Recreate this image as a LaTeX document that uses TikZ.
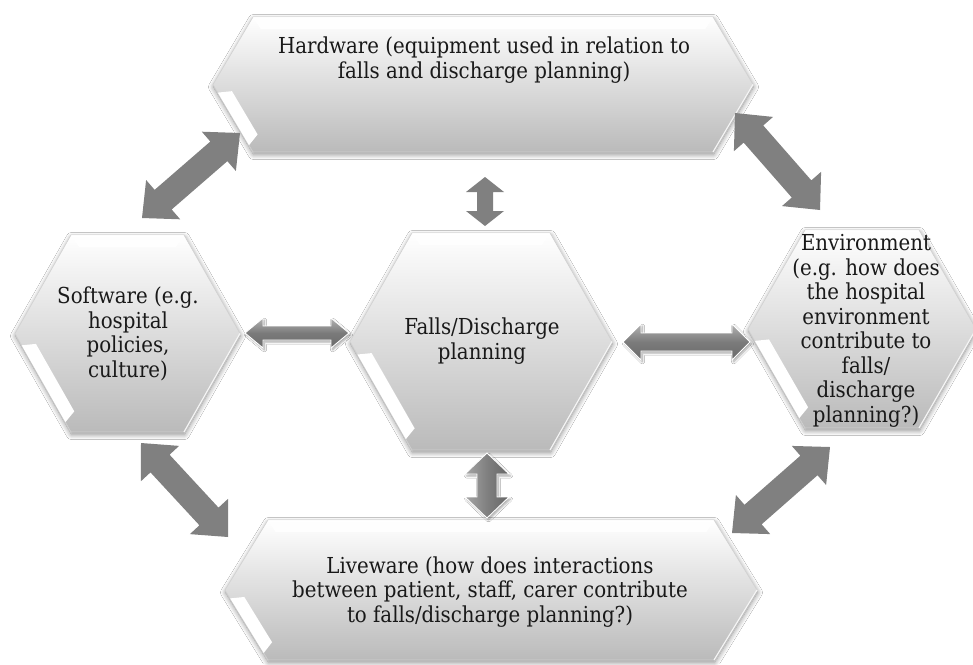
\documentclass[tikz,border=0pt]{standalone}
\usepackage{fontspec}
\setmainfont{DejaVu Serif Condensed}
\usetikzlibrary{calc,shadows.blur}

\definecolor{arrowgray}{HTML}{808080}

\tikzset{
  hexfill/.style={top color=white, bottom color=black!27,
    draw=black!18, line width=0.6pt,
    blur shadow={shadow xshift=0.5pt, shadow yshift=-2.5pt, shadow blur steps=10,
                 shadow blur radius=5pt, shadow opacity=45}},
  bevelband/.style={fill=white},
  celltext/.style={align=center, font=\fontsize{22}{24.5}\selectfont,
    text=black!90, inner sep=0pt},
  flatarrow/.style={fill=arrowgray},
  raisedh/.style={top color=black!30, bottom color=black!58, middle color=black!52,
    draw=white, line width=0.9pt,
    blur shadow={shadow xshift=1.5pt, shadow yshift=-2pt, shadow blur steps=5,
                 shadow blur radius=2pt, shadow opacity=35}},
  raisedv/.style={left color=black!35, right color=black!60, middle color=black!50,
    draw=white, line width=0.9pt,
    blur shadow={shadow xshift=1.5pt, shadow yshift=-2pt, shadow blur steps=5,
                 shadow blur radius=2pt, shadow opacity=35}},
}

% Bevelled hexagon: #1 name, #2 centre x, #3 centre y, #4 half width,
% #5 half height, #6 horizontal slant of the side edges
\newcommand\hexcell[6]{%
  \coordinate (#1-L)  at ({#2-#4},#3);
  \coordinate (#1-TL) at ({#2-#4+#6},{#3-#5});
  \coordinate (#1-TR) at ({#2+#4-#6},{#3-#5});
  \coordinate (#1-R)  at ({#2+#4},#3);
  \coordinate (#1-BR) at ({#2+#4-#6},{#3+#5});
  \coordinate (#1-BL) at ({#2-#4+#6},{#3+#5});
  \coordinate (#1-iL)  at ({#2-#4+15},#3);
  \coordinate (#1-iTL) at ({#2-#4+15+#6*(#5-12)/#5},{#3-#5+12});
  \coordinate (#1-iTR) at ({#2+#4-15-#6*(#5-12)/#5},{#3-#5+12});
  \coordinate (#1-iBL) at ({#2-#4+15+#6*(#5-12)/#5},{#3+#5-12});
  \path[hexfill] (#1-L) -- (#1-TL) -- (#1-TR) -- (#1-R) -- (#1-BR) -- (#1-BL) -- cycle;
  \fill[bevelband, opacity=0.9] (#1-TL) -- (#1-TR) -- (#1-iTR) -- (#1-iTL) -- cycle;
  \fill[bevelband] ($(#1-L)!0.12!(#1-BL)$) -- ($(#1-L)!0.9!(#1-BL)$)
    -- ($(#1-iL)!0.9!(#1-iBL)$) -- ($(#1-iL)!0.12!(#1-iBL)$) -- cycle;
  \draw[white, line width=1.2pt, opacity=0.8] (#1-R) -- (#1-BR);
}

% Double-headed block arrow: #1 style, #2 one end, #3 other end,
% #4 head length, #5 half head width, #6 half shaft width
\newcommand\blockarrow[6]{%
  \path[#1] (#2)
    -- ($(#2)!#4!(#3)!#5!90:(#3)$)
    -- ($(#2)!#4!(#3)!#6!90:(#3)$)
    -- ($(#3)!#4!(#2)!#6!-90:(#2)$)
    -- ($(#3)!#4!(#2)!#5!-90:(#2)$)
    -- (#3)
    -- ($(#3)!#4!(#2)!#5!90:(#2)$)
    -- ($(#3)!#4!(#2)!#6!90:(#2)$)
    -- ($(#2)!#4!(#3)!#6!-90:(#3)$)
    -- ($(#2)!#4!(#3)!#5!-90:(#3)$)
    -- cycle;
}

\begin{document}
\begin{tikzpicture}[x=1pt, y=-1pt]
  \fill[white] (0,0) rectangle (973,664);
  \useasboundingbox (0,0) rectangle (973,664);

  % the five hexagons
  \hexcell{hwh}{483}{84.5}{270}{67.5}{40}
  \hexcell{lwh}{491}{590}{266}{70}{43}
  \hexcell{swh}{127.5}{333.5}{112.5}{98.5}{56}
  \hexcell{fdh}{481}{341.5}{131}{108.5}{62}
  \hexcell{enh}{862}{329}{114}{99}{57}

  % texts
  \node[celltext] (hw) at (484,60)
    {Hardware (equipment used in relation to\\falls and discharge planning)};
  \node[celltext] (sw) at (128,334)
    {Software (e.g.\\hospital\\policies,\\culture)};
  \node[celltext] (fd) at (482,341)
    {Falls/Discharge\\planning};
  \node[celltext] (en) at (866,331)
    {Environment\\(e.g. how does\\the hospital\\environment\\contribute to\\falls/\\discharge\\planning?)};
  \node[celltext] (lw) at (490,592)
    {Liveware (how does interactions\\between patient, staff, carer contribute\\to falls/discharge planning?)};

  % arrow end points
  \coordinate (sw-hw) at (142,218);
  \coordinate (hw-sw) at (240,133);
  \coordinate (hw-en) at (735,113);
  \coordinate (en-hw) at (820,210);
  \coordinate (sw-lw) at (141,443);
  \coordinate (lw-sw) at (228,537);
  \coordinate (lw-en) at (732,533);
  \coordinate (en-lw) at (830,447);
  \coordinate (hw-fd) at (485,177);
  \coordinate (fd-hw) at (485,226);
  \coordinate (fd-lw) at (487,453);
  \coordinate (lw-fd) at (487,518);
  \coordinate (sw-fd) at (245,333);
  \coordinate (fd-sw) at (349,333);
  \coordinate (fd-en) at (623,342);
  \coordinate (en-fd) at (750,342);

  % connectors
  \blockarrow{flatarrow}{sw-hw}{hw-sw}{28pt}{26pt}{13pt}
  \blockarrow{flatarrow}{hw-en}{en-hw}{28pt}{26pt}{13pt}
  \blockarrow{flatarrow}{sw-lw}{lw-sw}{28pt}{26pt}{13pt}
  \blockarrow{flatarrow}{lw-en}{en-lw}{28pt}{26pt}{13pt}
  \blockarrow{flatarrow}{hw-fd}{fd-hw}{15pt}{19pt}{8pt}
  \blockarrow{raisedv}{fd-lw}{lw-fd}{21pt}{22pt}{10pt}
  \blockarrow{raisedh}{sw-fd}{fd-sw}{18pt}{15pt}{7pt}
  \blockarrow{raisedh}{fd-en}{en-fd}{18pt}{18pt}{9pt}
\end{tikzpicture}
\end{document}
